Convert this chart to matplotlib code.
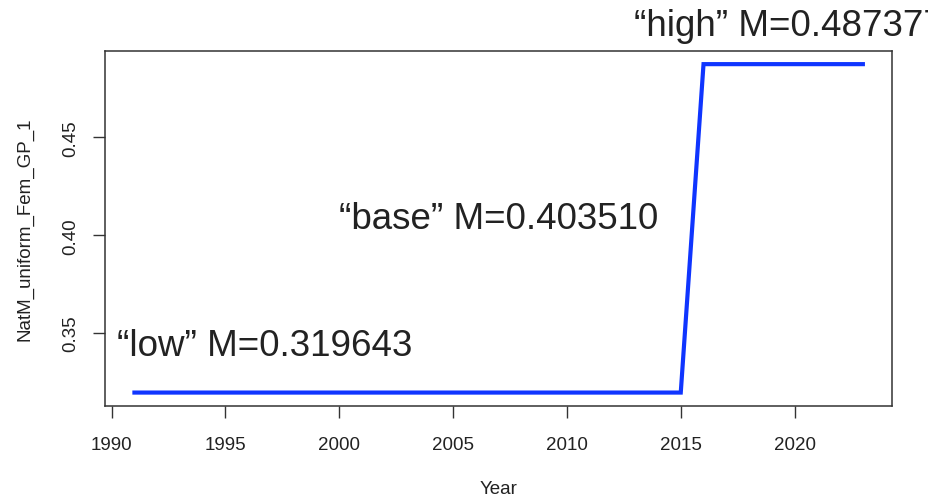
import matplotlib
matplotlib.use('Agg')
import matplotlib.pyplot as plt
from matplotlib.ticker import MultipleLocator, FormatStrFormatter

plt.rcParams['font.family'] = ['Liberation Sans', 'DejaVu Sans']

years = [1991, 1992, 1993, 1994, 1995, 1996, 1997, 1998, 1999, 2000, 2001,
         2002, 2003, 2004, 2005, 2006, 2007, 2008, 2009, 2010, 2011, 2012,
         2013, 2014, 2015, 2016, 2017, 2018, 2019, 2020, 2021, 2022, 2023]
natm = [0.319643, 0.319643, 0.319643, 0.319643, 0.319643, 0.319643, 0.319643,
        0.319643, 0.319643, 0.319643, 0.319643, 0.319643, 0.319643, 0.319643,
        0.319643, 0.319643, 0.319643, 0.319643, 0.319643, 0.319643, 0.319643,
        0.319643, 0.319643, 0.319643, 0.319643, 0.487377, 0.487377, 0.487377,
        0.487377, 0.487377, 0.487377, 0.487377, 0.487377]

label_text = ['\u201clow\u201d M=0.319643', '\u201cbase\u201d M=0.403510', '\u201chigh\u201d M=0.487377']
label_x = [1996.7, 2007.0, 2019.76]
label_y = [0.3388, 0.4037, 0.5023]

text_col = '#222222'

fig = plt.figure(figsize=(9.29, 5.02), dpi=100)
ax = fig.add_axes([0.11335, 0.18984, 0.84682, 0.70657])
ax.plot(years, natm, color='#0f35ff', lw=3, solid_joinstyle='miter')
ax.margins(x=0.04, y=0.04)

# annotation for each scenario
for t, x, y in zip(label_text, label_x, label_y):
    ax.text(x, y, t, ha='center', va='baseline', fontsize=26.5, color=text_col, clip_on=False)

ax.xaxis.set_major_locator(MultipleLocator(5))
ax.yaxis.set_major_locator(MultipleLocator(0.05))
ax.yaxis.set_major_formatter(FormatStrFormatter('%.2f'))
ax.tick_params(axis='both', direction='out', length=8.6, width=1, color='#333333',
               labelsize=13.5, labelcolor=text_col)
ax.tick_params(axis='x', pad=13)
ax.tick_params(axis='y', labelrotation=90, pad=10.5)
for lab in ax.get_yticklabels():
    lab.set_va('center')
for sp in ax.spines.values():
    sp.set_color('#333333')
    sp.set_linewidth(1.1)

fig.text(498.5 / 929, 1 - 490 / 502, 'Year', ha='center', va='center', fontsize=13.5, color=text_col)
fig.text(25 / 929, 1 - 229 / 502, 'NatM_uniform_Fem_GP_1', ha='center', va='center',
         rotation=90, fontsize=13.5, color=text_col)

fig.savefig('out.png', dpi=100)
